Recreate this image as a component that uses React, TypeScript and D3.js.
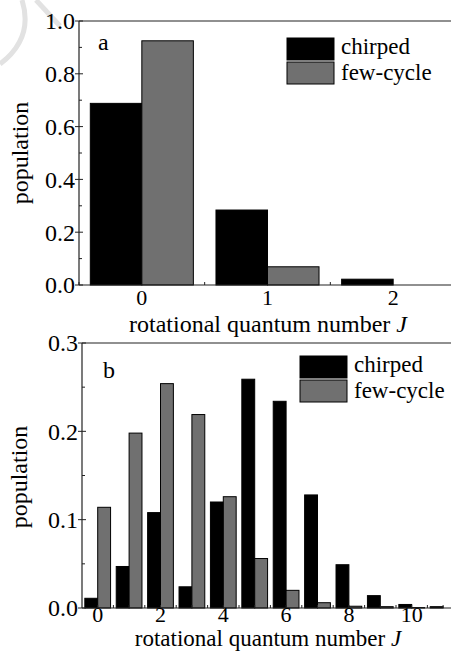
import React from "react";
import * as d3 from "d3";

const jA = [0, 1, 2];
const chirpedA = [0.688, 0.284, 0.022];
const fewCycleA = [0.925, 0.069, 0.0];
const yTicksA = [0, 0.2, 0.4, 0.6, 0.8, 1.0];
const xTickLabelsA = [0, 1, 2];

const jB = [0, 1, 2, 3, 4, 5, 6, 7, 8, 9, 10, 11];
const chirpedB = [0.011, 0.047, 0.108, 0.024, 0.12, 0.259, 0.234, 0.128, 0.049, 0.014, 0.004, 0.0015];
const fewCycleB = [0.114, 0.198, 0.254, 0.219, 0.126, 0.056, 0.02, 0.006, 0.002, 0.0015, 0.0005, 0.0];
const yTicksB = [0, 0.1, 0.2, 0.3];
const xTickLabelsB = [0, 2, 4, 6, 8, 10];

const seriesNames = ["chirped", "few-cycle"];

const FONT = "Liberation Serif";
const GRAY = "#707070";

type PanelProps = {
  js: number[];
  chirped: number[];
  few: number[];
  xDomain: [number, number];
  xRange: [number, number];
  yMax: number;
  yRange: [number, number];
  yTicks: number[];
  yMinor: number[];
  xLabels: number[];
  xMinor: number[];
  letter: string;
  letterPos: [number, number];
  legendPos: [number, number];
  yLabelPos: [number, number];
  xLabelY: number;
  xLabelSize: number;
  tickLabelY: number;
  tickLabelSize: number;
  yFmt: (v: number) => string;
};

function Panel(p: PanelProps) {
  const x = d3.scaleLinear().domain(p.xDomain).range(p.xRange);
  const y = d3.scaleLinear().domain([0, p.yMax]).range(p.yRange);
  const pitch = x(1) - x(0);
  const bw = pitch * 0.41;
  const x0 = p.xRange[0];
  const y0 = p.yRange[0];
  const yTop = p.yRange[1];
  const [lx, ly] = p.legendPos;
  return (
    <g>
      {p.js.map((j, i) => (
        <g key={j}>
          {p.chirped[i] > 0 && (
            <rect x={x(j) - bw} y={y(p.chirped[i])} width={bw} height={y0 - y(p.chirped[i])} fill="#000" stroke="#000" strokeWidth={1} />
          )}
          {p.few[i] > 0 && (
            <rect x={x(j)} y={y(p.few[i])} width={bw} height={y0 - y(p.few[i])} fill={GRAY} stroke="#000" strokeWidth={1} />
          )}
        </g>
      ))}
      <line x1={x0} x2={451} y1={y0} y2={y0} stroke="#222" strokeWidth={1.2} />
      <line x1={x0} x2={451} y1={yTop} y2={yTop} stroke="#222" strokeWidth={1.2} />
      <line x1={x0} x2={x0} y1={yTop} y2={y0} stroke="#222" strokeWidth={1.2} />
      {p.yTicks.map((t) => (
        <g key={"yt" + t}>
          <line x1={x0 - 4} x2={x0 + 4} y1={y(t)} y2={y(t)} stroke="#222" strokeWidth={1} />
          <text x={x0 - 4} y={y(t)} dy="0.35em" textAnchor="end" fontSize={24} fontFamily={FONT}>
            {p.yFmt(t)}
          </text>
        </g>
      ))}
      {p.yMinor.map((t) => (
        <line key={"ym" + t} x1={x0} x2={x0 + 3} y1={y(t)} y2={y(t)} stroke="#222" strokeWidth={1} />
      ))}
      {p.xMinor.map((t) => (
        <line key={"xm" + t} x1={x(t)} x2={x(t)} y1={y0} y2={y0 - 3} stroke="#222" strokeWidth={1} />
      ))}
      {p.xLabels.map((t) => (
        <text key={"xl" + t} x={x(t)} y={p.tickLabelY} textAnchor="middle" fontSize={p.tickLabelSize} fontFamily={FONT}>
          {t}
        </text>
      ))}
      <text x={p.letterPos[0]} y={p.letterPos[1]} fontSize={24} fontFamily={FONT}>
        {p.letter}
      </text>
      <rect x={lx} y={ly} width={47} height={22} fill="#000" stroke="#000" />
      <rect x={lx} y={ly + 24} width={47} height={22} fill={GRAY} stroke="#000" />
      <text x={lx + 54} y={ly + 16} fontSize={23} fontFamily={FONT}>
        {seriesNames[0]}
      </text>
      <text x={lx + 54} y={ly + 42} fontSize={23} fontFamily={FONT}>
        {seriesNames[1]}
      </text>
      <text
        transform={`translate(${p.yLabelPos[0]},${p.yLabelPos[1]}) rotate(-90)`}
        textAnchor="middle"
        fontSize={24}
        fontFamily={FONT}
      >
        population
      </text>
      <text x={268} y={p.xLabelY} textAnchor="middle" fontSize={p.xLabelSize} fontFamily={FONT}>
        rotational quantum number <tspan fontStyle="italic">J</tspan>
      </text>
    </g>
  );
}

export default function App() {
  const minorA = [0.1, 0.3, 0.5, 0.7, 0.9];
  const minorB = [0.05, 0.15, 0.25];
  const xMinorA = [-0.5, 0.5, 1.5, 2.5];
  const xMinorB = d3.range(0, 12, 0.5);
  return (
    <svg width={451} height={651} style={{ position: "absolute", left: 0, top: 0, background: "#fff" }}>
      <rect width={451} height={651} fill="#fff" />
      <g fill="none" stroke="#e2e2e2" strokeWidth={5}>
        <path d="M 22 0 Q 34 38 0 64" />
        <path d="M 36 0 L 60 26" />
      </g>
      <Panel
        js={jA}
        chirped={chirpedA}
        few={fewCycleA}
        xDomain={[-0.5, 2.5]}
        xRange={[79, 456]}
        yMax={1}
        yRange={[285, 21]}
        yTicks={yTicksA}
        yMinor={minorA}
        xLabels={xTickLabelsA}
        xMinor={xMinorA}
        letter="a"
        letterPos={[98, 50]}
        legendPos={[287, 38]}
        yLabelPos={[28, 153]}
        xLabelY={332}
        xLabelSize={24}
        tickLabelY={305}
        tickLabelSize={22}
        yFmt={(v) => v.toFixed(1)}
      />
      <Panel
        js={jB}
        chirped={chirpedB}
        few={fewCycleB}
        xDomain={[-0.5, 11.5]}
        xRange={[82, 82 + 12 * 31.4]}
        yMax={0.3}
        yRange={[608, 343]}
        yTicks={yTicksB}
        yMinor={minorB}
        xLabels={xTickLabelsB}
        xMinor={xMinorB}
        letter="b"
        letterPos={[103, 378]}
        legendPos={[300, 356]}
        yLabelPos={[27, 477]}
        xLabelY={646}
        xLabelSize={23}
        tickLabelY={622}
        tickLabelSize={22}
        yFmt={(v) => v.toFixed(1)}
      />
    </svg>
  );
}
